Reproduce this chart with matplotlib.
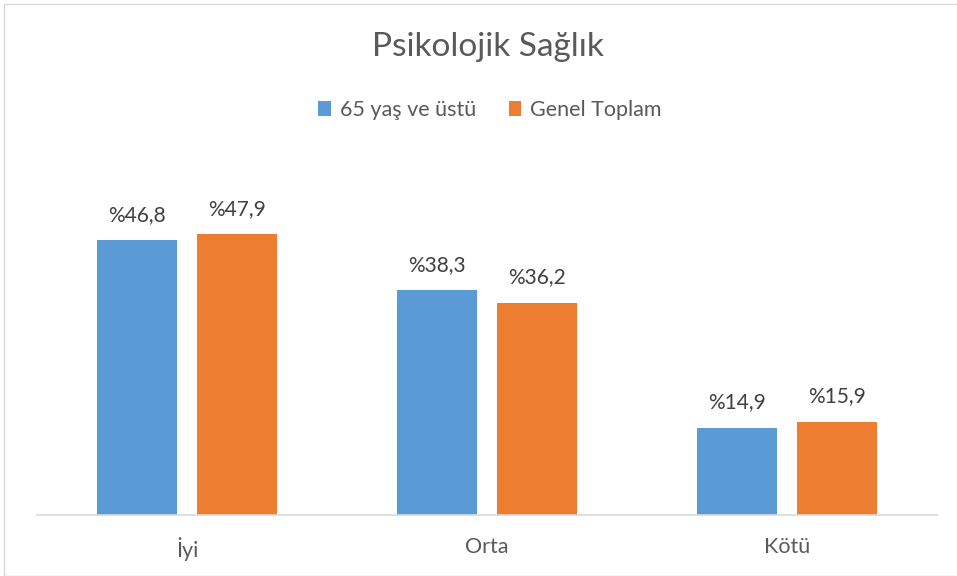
import matplotlib
matplotlib.use('Agg')
import matplotlib.pyplot as plt
import numpy as np
from matplotlib.patches import Rectangle

categories = ['İyi', 'Orta', 'Kötü']
series_names = ['65 yaş ve üstü', 'Genel Toplam']
values_65 = [46.8, 38.3, 14.9]
values_total = [47.9, 36.2, 15.9]
colors = ['#5B9BD5', '#ED7D31']

plt.rcParams['font.family'] = ['Lato', 'DejaVu Sans']

fig = plt.figure(figsize=(9.57, 5.76), dpi=100)
ax = fig.add_axes([37 / 957, 61 / 576, 900 / 957, 352 / 576])

x = np.arange(len(categories))
w = 0.2667
off = (w + 0.0667) / 2
bars_a = ax.bar(x - off, values_65, w, color=colors[0], label=series_names[0])
bars_b = ax.bar(x + off, values_total, w, color=colors[1], label=series_names[1])

for bars in (bars_a, bars_b):
    for b in bars:
        h = b.get_height()
        ax.annotate('%' + f'{h:.1f}'.replace('.', ','),
                    (b.get_x() + b.get_width() / 2, h),
                    xytext=(0, 11), textcoords='offset points',
                    ha='center', va='bottom', fontsize=15, color='#404040')

ax.set_xlim(-0.5, 2.5)
ax.set_ylim(0, 60)
ax.set_xticks(x)
ax.set_xticklabels(categories, fontsize=15.5, color='#595959')
ax.tick_params(axis='x', length=0, pad=16)
ax.set_yticks([])
for s in ['top', 'right', 'left']:
    ax.spines[s].set_visible(False)
ax.spines['bottom'].set_color('#D9D9D9')
ax.spines['bottom'].set_linewidth(1.2)

fig.text(488 / 957, 1 - 47 / 576, 'Psikolojik Sağlık', ha='center', va='center',
         fontsize=24, color='#595959')
fig.legend(handles=[bars_a, bars_b], labels=series_names, loc='center',
           bbox_to_anchor=(490 / 957, 1 - 110 / 576), ncol=2, frameon=False,
           fontsize=15.5, labelcolor='#595959', handlelength=0.6, handleheight=0.7,
           handletextpad=0.4, columnspacing=1.5)

fig.add_artist(Rectangle((4 / 957, 0), 1.2, 1 - 4 / 576, transform=fig.transFigure,
                         fill=False, edgecolor='#D9D9D9', linewidth=1))

fig.savefig('out.png', dpi=100)
